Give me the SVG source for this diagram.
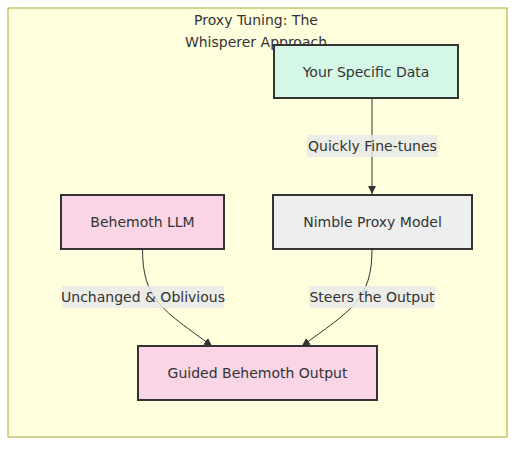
<svg xmlns="http://www.w3.org/2000/svg" width="532" height="451" viewBox="0 0 532 451">
<defs>
<style>
.txt{font-family:"DejaVu Sans","Liberation Sans",sans-serif;font-size:14px;fill:#333;text-anchor:middle}
.node{stroke:#333;stroke-width:2}
.edge{fill:none;stroke:#333;stroke-width:1}
.lbl{fill:#e8e8e8;opacity:0.8}
</style>
<marker id="arrow" viewBox="0 0 10 10" refX="10" refY="5" markerWidth="8" markerHeight="8" markerUnits="userSpaceOnUse" orient="auto">
<path d="M0,0 L10,5 L0,10 z" fill="#333"/>
</marker>
</defs>
<rect width="532" height="451" fill="#ffffff"/>
<g id="cluster">
<rect x="8" y="8" width="499" height="429" fill="#ffffde" stroke="#aaaa33" stroke-width="1"/>
<text class="txt" x="256" y="25">Proxy Tuning: The</text>
<text class="txt" x="256" y="47">Whisperer Approach</text>
</g>
<g id="connectors">
<path class="edge" d="M372,98 L372,194" marker-end="url(#arrow)"/>
<path class="edge" d="M142.5,249 C142.5,300 163,310 212,346" marker-end="url(#arrow)"/>
<path class="edge" d="M372,249 C372,300 351,310 302,346" marker-end="url(#arrow)"/>
<g id="label-finetunes">
<rect class="lbl" x="307" y="135" width="131" height="22"/>
<text class="txt" x="372.5" y="151">Quickly Fine-tunes</text>
</g>
<g id="label-unchanged">
<rect class="lbl" x="62" y="286" width="162" height="22"/>
<text class="txt" x="143" y="302">Unchanged &amp; Oblivious</text>
</g>
<g id="label-steers">
<rect class="lbl" x="309" y="286" width="126" height="22"/>
<text class="txt" x="372" y="302">Steers the Output</text>
</g>
</g>
<g id="node-data">
<rect class="node" x="274" y="45" width="184" height="53" fill="#d5f8e6"/>
<text class="txt" x="366" y="76.5">Your Specific Data</text>
</g>
<g id="node-behemoth">
<rect class="node" x="61" y="195" width="163" height="54" fill="#f9d5e5"/>
<text class="txt" x="142.5" y="227">Behemoth LLM</text>
</g>
<g id="node-proxy">
<rect class="node" x="273" y="195" width="199" height="54" fill="#eeeeee"/>
<text class="txt" x="372.5" y="227">Nimble Proxy Model</text>
</g>
<g id="node-output">
<rect class="node" x="138" y="346" width="239" height="54" fill="#f9d5e5"/>
<text class="txt" x="257.5" y="378">Guided Behemoth Output</text>
</g>
</svg>
